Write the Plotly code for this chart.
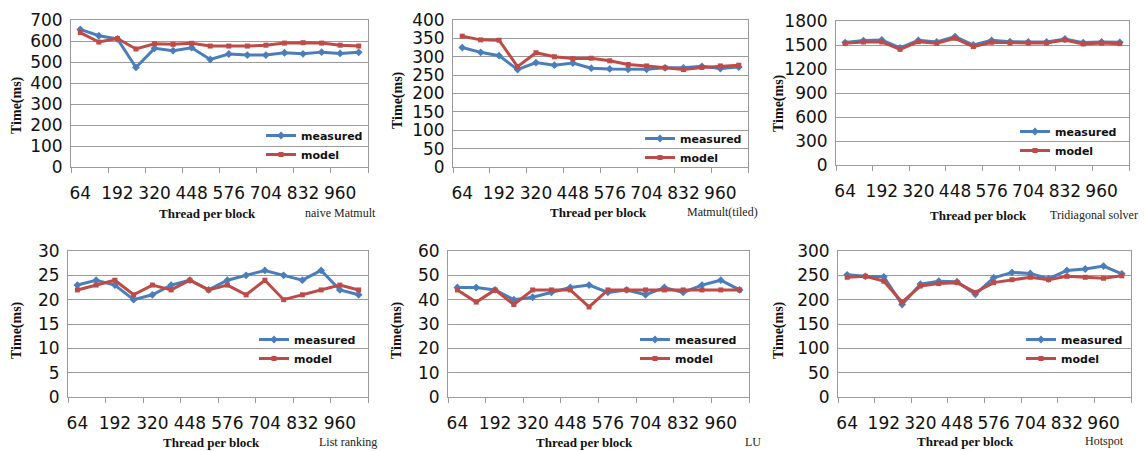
import plotly.graph_objects as go

threads = [64, 128, 192, 256, 320, 384, 448, 512, 576, 640, 704, 768, 832, 896, 960, 1024]
tick_labels = [64, 192, 320, 448, 576, 704, 832, 960]

naive_measured = [655, 625, 610, 474, 565, 554, 568, 512, 538, 533, 533, 544, 539, 547, 541, 546]
naive_model = [640, 595, 612, 562, 587, 584, 589, 576, 576, 576, 580, 590, 592, 590, 580, 576]

tiled_measured = [325, 312, 303, 265, 284, 277, 283, 269, 267, 266, 266, 270, 270, 274, 268, 272]
tiled_model = [356, 346, 345, 273, 311, 300, 295, 296, 289, 279, 275, 270, 265, 271, 275, 277]

tri_measured = [1530, 1555, 1563, 1463, 1559, 1538, 1605, 1500, 1559, 1542, 1538, 1538, 1575, 1530, 1538, 1534]
tri_model = [1521, 1538, 1538, 1446, 1542, 1521, 1584, 1480, 1534, 1525, 1525, 1525, 1563, 1513, 1525, 1517]

list_measured = [23, 24, 23, 20, 21, 23, 24, 22, 24, 25, 26, 25, 24, 26, 22, 21]
list_model = [22, 23, 24, 21, 23, 22, 24, 22, 23, 21, 24, 20, 21, 22, 23, 22]

lu_measured = [45, 45, 44, 40, 41, 43, 45, 46, 43, 44, 42, 45, 43, 46, 48, 44]
lu_model = [44, 39, 44, 38, 44, 44, 44, 37, 44, 44, 44, 44, 44, 44, 44, 44]

hot_measured = [251, 248, 247, 190, 232, 238, 237, 211, 245, 256, 254, 243, 260, 263, 269, 253]
hot_model = [246, 248, 238, 195, 228, 233, 235, 215, 235, 241, 246, 241, 248, 246, 244, 249]

names = ["naive Matmult", "Matmult(tiled)", "Tridiagonal solver", "List ranking", "LU", "Hotspot"]
series = [
    (naive_measured, naive_model), (tiled_measured, tiled_model), (tri_measured, tri_model),
    (list_measured, list_model), (lu_measured, lu_model), (hot_measured, hot_model),
]
y_max = [700, 400, 1800, 30, 60, 300]
y_dtick = [100, 50, 300, 5, 10, 50]

W, H = 1144, 451
# plot area pixel boxes (left, right, top, bottom)
boxes = [
    (71, 368, 20, 167), (453, 748, 20, 167), (836, 1129, 21, 165),
    (68, 368, 251, 397), (448, 749, 251, 397), (838, 1131, 251, 397),
]
legend_pos = [(261, 121), (640, 124), (1015, 117), (254, 325), (635, 325), (1021, 325)]
xtitle_pos = [(207, 213), (598, 212), (978, 215), (211, 442), (584, 442), (965, 441)]
name_pos = [(303, 213), (685, 212), (1048, 215), (317, 442), (743, 442), (1083, 441)]
ytitle_pos = [(17, 105), (398, 100), (779, 103), (17, 330), (397, 330), (779, 330)]

BLUE = "#4A7EBB"
RED = "#BE4B48"
GRID = "#9a9a9a"

fig = go.Figure()
layout = dict(
    width=W, height=H, margin=dict(l=0, r=0, t=0, b=0, autoexpand=False),
    paper_bgcolor="white", plot_bgcolor="white", showlegend=True,
)
annotations = []

for i in range(6):
    k = "" if i == 0 else str(i + 1)
    leg = "legend" if i == 0 else f"legend{i + 1}"
    meas, mod = series[i]
    fig.add_trace(go.Scatter(
        x=threads, y=meas, name="measured", mode="lines+markers",
        line=dict(color=BLUE, width=3), marker=dict(symbol="diamond", size=6, color=BLUE),
        xaxis="x" + k, yaxis="y" + k, legend=leg,
    ))
    fig.add_trace(go.Scatter(
        x=threads, y=mod, name="model", mode="lines+markers",
        line=dict(color=RED, width=3), marker=dict(symbol="square", size=5, color=RED),
        xaxis="x" + k, yaxis="y" + k, legend=leg,
    ))
    l, r, t, b = boxes[i]
    layout["xaxis" + k] = dict(
        domain=[l / W, r / W], anchor="y" + k, range=[32, 1056],
        tickvals=tick_labels, ticktext=[str(v) for v in tick_labels],
        ticks="outside", ticklen=11, tickcolor="rgba(0,0,0,0)",
        showgrid=False, zeroline=False, showline=True, linecolor=GRID, linewidth=1, mirror=True,
        tickfont=dict(family="DejaVu Sans", size=17, color="#111"),
        minor=dict(tick0=32, dtick=128, ticks="outside", ticklen=5, tickcolor=GRID, tickwidth=1, showgrid=False),
        fixedrange=True, automargin=False,
    )
    layout["yaxis" + k] = dict(
        domain=[1 - b / H, 1 - t / H], anchor="x" + k, range=[0, y_max[i]], dtick=y_dtick[i],
        ticks="outside", ticklen=4, tickcolor="rgba(0,0,0,0)",
        showgrid=True, gridcolor=GRID, gridwidth=1, zeroline=False,
        showline=True, linecolor=GRID, linewidth=1, mirror=True,
        tickfont=dict(family="DejaVu Sans", size=17, color="#111"),
        fixedrange=True, automargin=False,
    )
    lx, ly = legend_pos[i]
    layout[leg] = dict(
        x=lx / W, y=1 - ly / H, xanchor="left", yanchor="top",
        bgcolor="rgba(0,0,0,0)", borderwidth=0, tracegroupgap=0,
        font=dict(family="DejaVu Sans", size=11, color="#111", weight="bold"),
        itemwidth=30,
    )
    tx, ty = xtitle_pos[i]
    annotations.append(dict(
        x=tx / W, y=1 - ty / H, xref="paper", yref="paper", text="<b>Thread per block</b>",
        showarrow=False, xanchor="center", yanchor="middle",
        font=dict(family="Liberation Serif", size=13, color="#111"),
    ))
    nx, ny = name_pos[i]
    annotations.append(dict(
        x=nx / W, y=1 - ny / H, xref="paper", yref="paper", text=names[i],
        showarrow=False, xanchor="left", yanchor="middle",
        font=dict(family="Liberation Serif", size=12, color="#222"),
    ))
    yx, yy = ytitle_pos[i]
    annotations.append(dict(
        x=yx / W, y=1 - yy / H, xref="paper", yref="paper", text="<b>Time(ms)</b>",
        showarrow=False, xanchor="center", yanchor="middle", textangle=-90,
        font=dict(family="Liberation Serif", size=14, color="#111"),
    ))

layout["annotations"] = annotations
fig.update_layout(**layout)
fig.write_html(
    "out.html",
    config={"displayModeBar": False},
    post_script="document.body.style.margin='0';document.body.style.overflow='hidden';",
)
